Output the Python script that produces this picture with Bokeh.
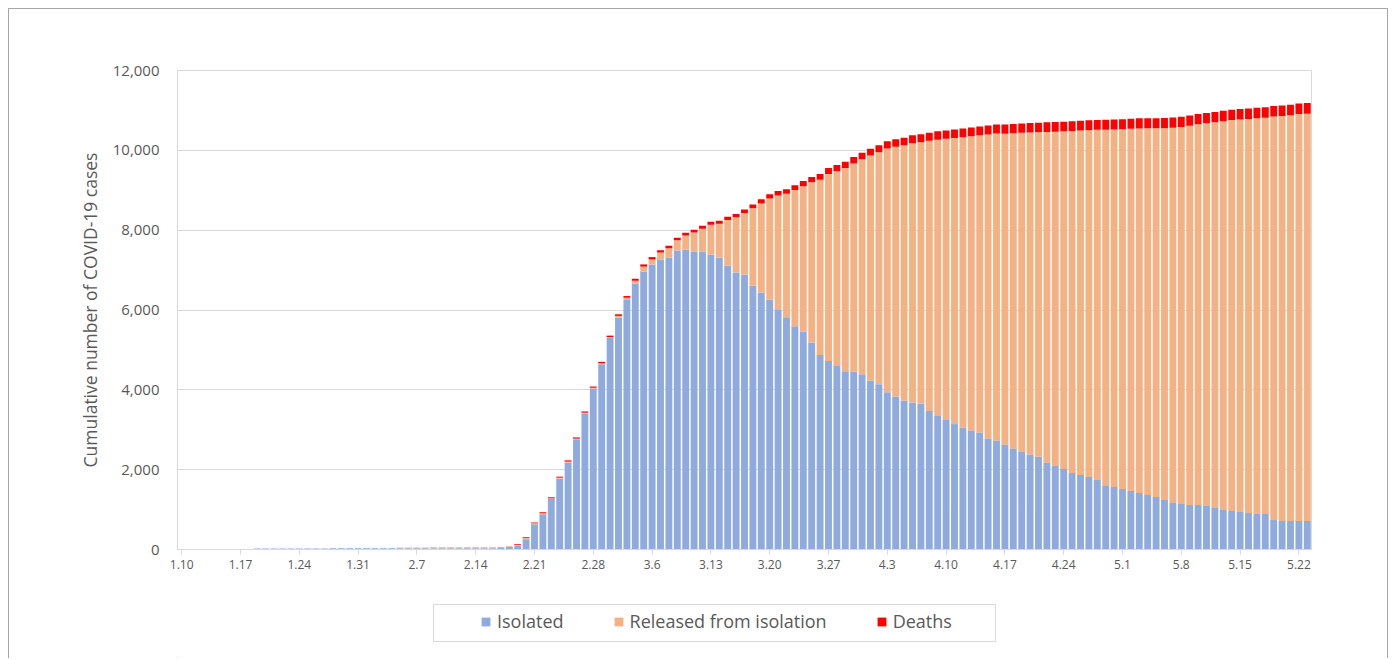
import pandas as pd
from bokeh.plotting import figure
from bokeh.layouts import column
from bokeh.models import (ColumnDataSource, FixedTicker, Legend, LegendItem,
                          NumeralTickFormatter)
from bokeh.embed import file_html
from bokeh.resources import INLINE

# ---------------- data ----------------
start_date = "2020-01-10"
n_days = 135
day_labels = [f"{d.month}.{d.day}" for d in pd.date_range(start_date, periods=n_days)]
first_bar_day = 9          # first bar index (days after 1.10)
tick_days = list(range(0, n_days, 7))

isolated = [
    25, 25, 25, 25, 27, 27, 28, 28, 28, 30, 30, 30, 32, 32, 32, 33, 33,
    30, 30, 30, 30, 30, 30, 30, 30, 30, 30, 30, 32,
    40, 60, 100,
    258, 633, 883, 1267, 1775, 2175, 2758, 3400, 4033, 4642,
    5300, 5808, 6250, 6658, 6958, 7142, 7258, 7317, 7492, 7517,
    7467, 7467, 7392, 7317, 7117, 6942, 6892, 6608, 6433, 6258,
    6017, 5817, 5592, 5458, 5183, 4875, 4725, 4600, 4467, 4457,
    4392, 4233, 4142, 3942, 3833, 3733, 3683, 3650, 3467, 3342,
    3242, 3142, 3058, 2983, 2933, 2783, 2733, 2633, 2533, 2458,
    2375, 2325, 2175, 2092, 2017, 1917, 1867, 1817, 1742, 1592,
    1567, 1517, 1467, 1417, 1367, 1317, 1242, 1167, 1142, 1117,
    1117, 1092, 1042, 992, 967, 942, 917, 892, 892, 742,
    717, 717, 717, 717,
]
released = [
    0, 0, 0, 0, 0, 0, 0, 0, 0, 0, 0, 0, 0, 0, 0, 0, 0,
    22, 22, 23, 23, 24, 24, 25, 25, 26, 26, 26, 26,
    22, 23, 12,
    30, 22, 25, 16, 25, 28, 20, 28, 20, 23,
    23, 44, 58, 75, 129, 125, 182, 231, 254, 351,
    474, 571, 741, 841, 1136, 1384, 1535, 1940, 2238, 2534,
    2854, 3093, 3413, 3645, 4015, 4388, 4683, 4878, 5092, 5216,
    5385, 5639, 5808, 6103, 6257, 6394, 6492, 6550, 6770, 6923,
    7046, 7168, 7272, 7370, 7442, 7614, 7687, 7785, 7893, 7981,
    8071, 8131, 8287, 8376, 8459, 8568, 8627, 8689, 8772, 8925,
    8957, 9013, 9076, 9132, 9185, 9235, 9313, 9400, 9442, 9501,
    9536, 9586, 9661, 9739, 9791, 9833, 9871, 9910, 9923, 10105,
    10141, 10161, 10192, 10202,
]
deaths = [
    0, 0, 0, 0, 0, 0, 0, 0, 0, 0, 0, 0, 0, 0, 0, 0, 0,
    0, 0, 0, 0, 0, 0, 0, 0, 0, 0, 0, 0,
    0, 0, 20,
    20, 20, 25, 25, 25, 30, 30, 30, 30, 35,
    35, 40, 42, 50, 55, 58, 60, 60, 62, 65,
    67, 70, 75, 75, 80, 82, 90, 94, 104, 108,
    112, 115, 120, 130, 135, 145, 150, 155, 158, 160,
    165, 170, 175, 180, 185, 190, 200, 200, 205, 210,
    212, 215, 220, 222, 225, 228, 230, 232, 234, 236,
    237, 238, 240, 240, 242, 243, 244, 246, 247, 248,
    250, 250, 250, 252, 252, 254, 255, 255, 256, 256,
    256, 258, 259, 260, 260, 262, 262, 263, 263, 263,
    264, 264, 266, 266,
]
series_names = ["Isolated", "Released from isolation", "Deaths"]
series_colors = ["#8FAADC", "#F4B183", "#FF0000"]

days = list(range(first_bar_day, first_bar_day + len(isolated)))
source = ColumnDataSource(dict(day=days, iso=isolated, rel=released, dth=deaths))

# ---------------- main figure ----------------
FONT = "Open Sans"
TXT = "#595959"
GRID = "#D9D9D9"
W = 1378
H1, H2 = 580, 69
FRAME_L, FRAME_R = 177, 1311   # page pixels of the plot area

p = figure(width=W, height=H1, x_range=(-0.5, n_days - 0.5), y_range=(0, 12000),
           output_backend="svg", toolbar_location=None,
           min_border_left=168, min_border_right=76, min_border_top=61,
           min_border_bottom=H1 - 61 - 479)
p.background_fill_color = "white"
p.border_fill_color = "white"
p.outline_line_color = GRID

rs = p.vbar_stack(["iso", "rel", "dth"], x="day", width=0.82, source=source,
                  color=series_colors, line_color=None)

p.xgrid.grid_line_color = None
p.ygrid.grid_line_color = GRID
p.ygrid.ticker = FixedTicker(ticks=list(range(0, 12001, 2000)))

ya = p.yaxis[0]
ya.ticker = FixedTicker(ticks=list(range(0, 12001, 2000)))
ya.formatter = NumeralTickFormatter(format="0,0")
ya.axis_line_color = None
ya.major_tick_line_color = None
ya.minor_tick_line_color = None
ya.major_tick_out = 0
ya.major_label_standoff = 18
ya.major_label_text_font = FONT
ya.major_label_text_font_size = "15px"
ya.major_label_text_color = TXT
ya.axis_label = "Cumulative number of COVID-19 cases"
ya.axis_label_text_font = FONT
ya.axis_label_text_font_size = "17.5px"
ya.axis_label_text_font_style = "normal"
ya.axis_label_text_color = TXT
ya.axis_label_standoff = 8

xa = p.xaxis[0]
xa.ticker = FixedTicker(ticks=tick_days)
xa.major_label_overrides = {d: day_labels[d] for d in tick_days}
xa.axis_line_color = GRID
xa.major_tick_line_color = GRID
xa.major_tick_in = 0
xa.major_tick_out = 5
xa.minor_tick_line_color = None
xa.major_label_standoff = 5
xa.major_label_text_font = FONT
xa.major_label_text_font_size = "12px"
xa.major_label_text_color = TXT

# ---------------- legend strip (its frame is aligned with the main plot area) ----------------
lg = figure(width=W, height=H2, x_range=(FRAME_L, FRAME_R), y_range=(0, H2),
            output_backend="svg", toolbar_location=None,
            min_border_left=168, min_border_right=76, min_border_top=0, min_border_bottom=0)
lg.axis.visible = False
lg.grid.visible = False
lg.outline_line_color = None
lg.background_fill_color = "white"
lg.border_fill_color = "white"

# legend frame box
lg.quad(left=[433], right=[995], bottom=[17], top=[54],
        fill_color=None, line_color=GRID, line_width=1)

dummy = ColumnDataSource(dict(x=[-1000], top=[1]))
proxies = [lg.vbar(x="x", top="top", width=1, source=dummy, color=c, line_color=None)
           for c in series_colors]
legend = Legend(items=[LegendItem(label=n, renderers=[r]) for n, r in zip(series_names, proxies)],
                orientation="horizontal", location=(303, 25),
                glyph_width=11, glyph_height=11, label_standoff=6, spacing=49,
                padding=0, margin=0, label_height=20,
                label_text_font=FONT, label_text_font_size="18px", label_text_color=TXT,
                border_line_alpha=0, background_fill_alpha=0)
lg.add_layout(legend)

layout = column(p, lg, spacing=0, margin=(8, 8, 0, 8),
                styles={"border-top": "1px solid #A6A6A6",
                        "border-left": "1px solid #A6A6A6",
                        "border-right": "1px solid #A6A6A6"})

open("out.html", "w").write(file_html(layout, INLINE))
